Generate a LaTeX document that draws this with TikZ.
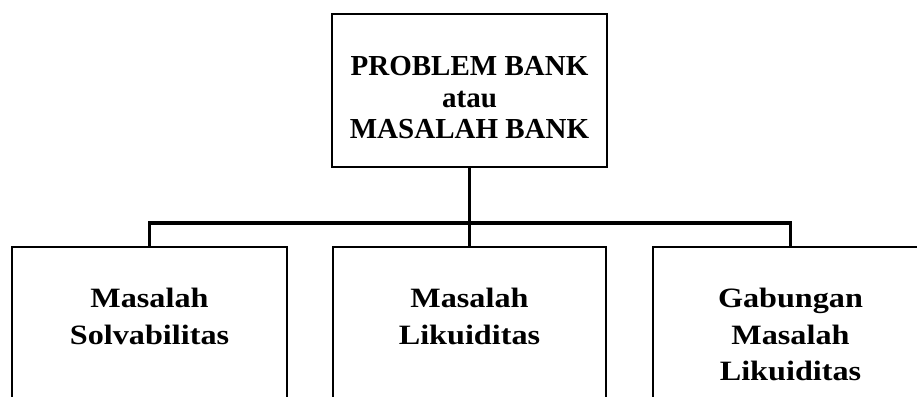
\documentclass[tikz,border=0pt]{standalone}
\usepackage{fontspec}
\setmainfont{Liberation Serif}
\newfontfamily\lebar[FakeStretch=1.15]{Liberation Serif}
\usetikzlibrary{positioning}

\begin{document}
\begin{tikzpicture}[
      x=1pt,y=1pt,
      kotak/.style={draw,line width=1.6pt,inner sep=0pt},
      sambung/.style={line width=3.6pt},
      judul/.style={align=center,inner sep=0pt,font=\fontsize{29}{31.5}\selectfont\bfseries},
      isi/.style={align=center,inner sep=0pt,font=\lebar\fontsize{28}{36.5}\selectfont\bfseries},
    ]
        \useasboundingbox (0,0) rectangle (917,396);
        % kotak atas
        \node[kotak,minimum width=275pt,minimum height=153pt] (atas) at (469.5,305.5) {};
        \node[judul,below=43pt of atas.north] (judulatas) {PROBLEM BANK\\atau\\MASALAH BANK};
        % tiga kotak bawah, bagian bawahnya terpotong
        \node[kotak,minimum width=275pt,minimum height=180pt] (kiri) at (149.5,59) {};
        \node[kotak,minimum width=273pt,minimum height=180pt] (tengah) at (469.5,59) {};
        \node[kotak,minimum width=275pt,minimum height=180pt] (kanan) at (790.5,59) {};
        \node[isi,below=42pt of kiri.north] (teksKiri) {Masalah\\Solvabilitas};
        \node[isi,below=42pt of tengah.north] (teksTengah) {Masalah\\Likuiditas};
        \node[isi,below=42pt of kanan.north] (teksKanan) {Gabungan\\Masalah\\Likuiditas};
        % garis penghubung
        \coordinate (cabang) at (469.5,173);
        \draw[sambung] (atas.south) -- (tengah.north);
        \draw[sambung] (kiri.north) |- (cabang) -| (kanan.north);
    \end{tikzpicture}
\end{document}
